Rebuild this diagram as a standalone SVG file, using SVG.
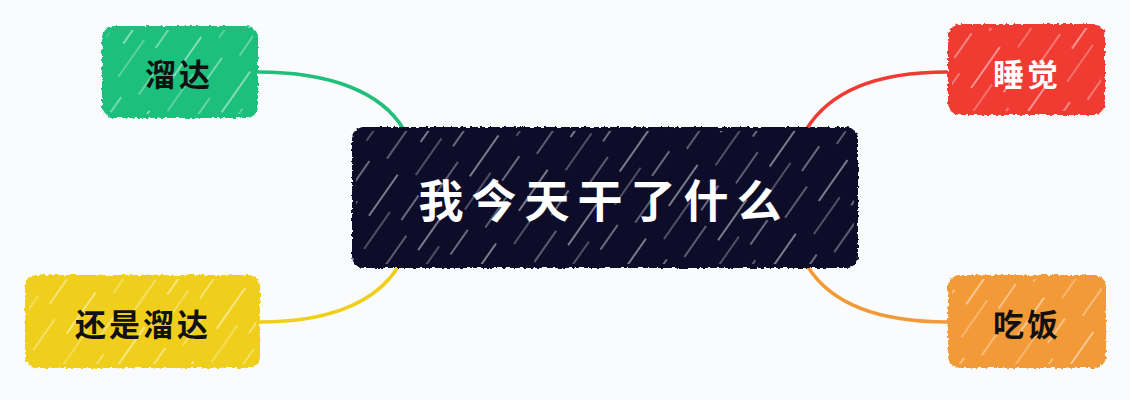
<svg xmlns="http://www.w3.org/2000/svg" width="1130" height="400" viewBox="0 0 1130 400">
  <defs>
    <pattern id="hatch" patternUnits="userSpaceOnUse" width="60" height="90" patternTransform="rotate(35)">
      <line x1="6" y1="5" x2="6" y2="55" stroke="#ffffff" stroke-opacity="0.6" stroke-width="1.5"/>
      <line x1="21" y1="40" x2="21" y2="85" stroke="#ffffff" stroke-opacity="0.45" stroke-width="1.2"/>
      <line x1="35" y1="10" x2="35" y2="40" stroke="#ffffff" stroke-opacity="0.55" stroke-width="1.4"/>
      <line x1="48" y1="50" x2="48" y2="88" stroke="#ffffff" stroke-opacity="0.5" stroke-width="1.3"/>
    </pattern>
    <filter id="rough" x="-5%" y="-5%" width="110%" height="110%">
      <feTurbulence type="fractalNoise" baseFrequency="0.3" numOctaves="2" seed="3" result="n"/>
      <feDisplacementMap in="SourceGraphic" in2="n" scale="4" xChannelSelector="R" yChannelSelector="G"/>
    </filter>
    <style>
      .txt { font-family: "Noto Sans CJK SC", "Noto Sans", sans-serif; font-weight: 700; text-anchor: middle; dominant-baseline: central; }
      .leaf { font-size: 31px; letter-spacing: 3px; }
      .root { font-size: 45px; letter-spacing: 8px; fill: #ffffff; }
      .hatch { fill: url(#hatch); }
      .conn { fill: none; stroke-width: 3.5; stroke-linecap: round; }
    </style>
  </defs>
  <rect width="1130" height="400" fill="#fafbfd"/>
  <g id="connectors">
    <path class="conn" stroke="#1fbf7c" d="M258,72 C330,72 382,92 404,130"/>
    <path class="conn" stroke="#ef3b33" d="M947,72 C880,72 830,90 806,130"/>
    <path class="conn" stroke="#f0cf1c" d="M260,322 C330,322 376,302 398,267"/>
    <path class="conn" stroke="#f39a38" d="M948,322 C880,322 832,305 808,267"/>
  </g>
  <g id="root">
    <rect x="352" y="127" width="506" height="141" rx="12" fill="#0d0f2c" filter="url(#rough)"/>
    <rect class="hatch" x="356" y="131" width="498" height="133" rx="10"/>
    <text class="txt root" x="604" y="198">我今天干了什么</text>
  </g>
  <g id="n-liuda">
    <rect x="102" y="26" width="156" height="92" rx="12" fill="#1fbf7c" filter="url(#rough)"/>
    <rect class="hatch" x="106" y="30" width="148" height="84" rx="10"/>
    <text class="txt leaf" x="179" y="72" fill="#111111">溜达</text>
  </g>
  <g id="n-shuijiao">
    <rect x="948" y="24" width="157" height="91" rx="12" fill="#ef3b33" filter="url(#rough)"/>
    <rect class="hatch" x="952" y="28" width="149" height="83" rx="10"/>
    <text class="txt leaf" x="1027" y="72" fill="#ffffff">睡觉</text>
  </g>
  <g id="n-haishiliuda">
    <rect x="25" y="275" width="235" height="93" rx="12" fill="#f0cf1c" filter="url(#rough)"/>
    <rect class="hatch" x="29" y="279" width="227" height="85" rx="10"/>
    <text class="txt leaf" x="143" y="322" fill="#111111">还是溜达</text>
  </g>
  <g id="n-chifan">
    <rect x="948" y="275" width="158" height="93" rx="12" fill="#f39a38" filter="url(#rough)"/>
    <rect class="hatch" x="952" y="279" width="150" height="85" rx="10"/>
    <text class="txt leaf" x="1027" y="322" fill="#111111">吃饭</text>
  </g>
</svg>
